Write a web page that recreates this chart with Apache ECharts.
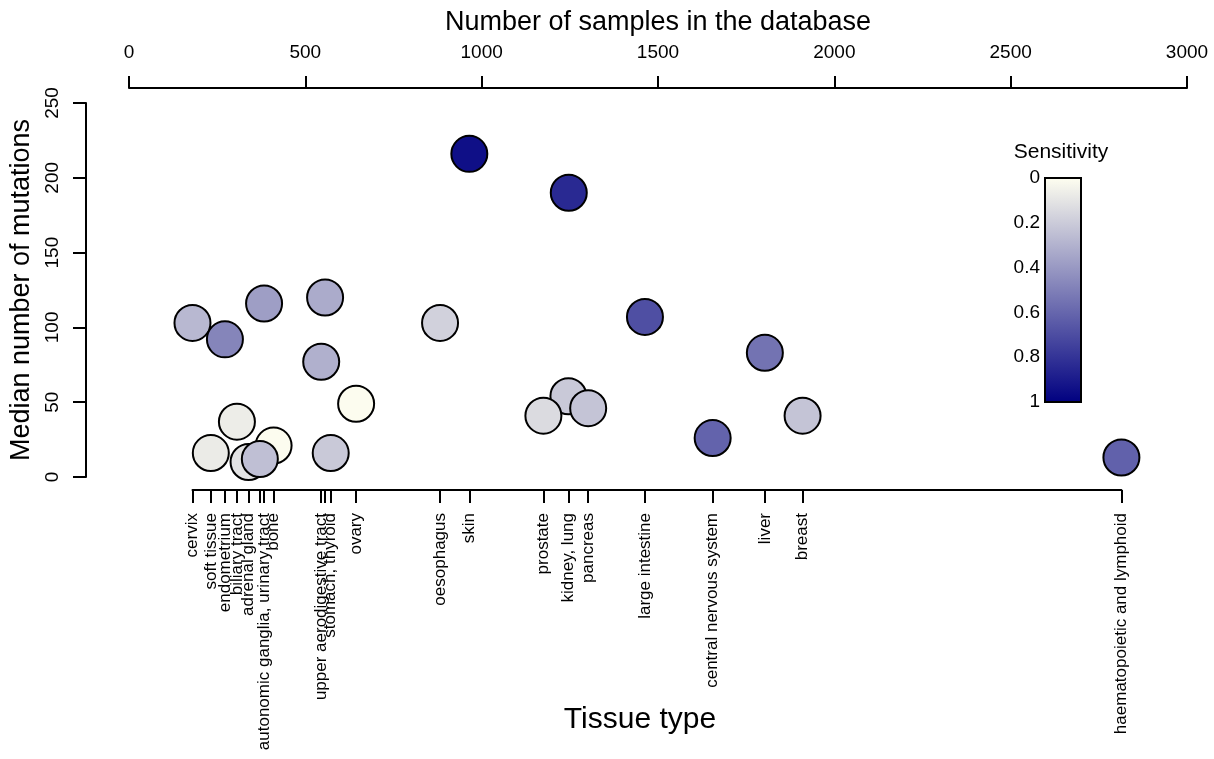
<!DOCTYPE html>
<html>
<head>
<meta charset="utf-8">
<script src="https://cdn.jsdelivr.net/npm/echarts@6/dist/echarts.min.js"></script>
<style>html,body{margin:0;padding:0;background:#fff}#c{width:1214px;height:759px}</style>
</head>
<body>
<div id="c"></div>
<script>
// ---- data (alphabetical = drawing order) ----
const tissues = ['adrenal gland','autonomic ganglia','biliary tract','bone','breast','central nervous system','cervix','endometrium','haematopoietic and lymphoid','kidney','large intestine','liver','lung','oesophagus','ovary','pancreas','prostate','skin','soft tissue','stomach','thyroid','upper aerodigestive tract','urinary tract'];
const tickLabels = ['adrenal gland','autonomic ganglia, urinary tract','biliary tract','bone','breast','central nervous system','cervix','endometrium','haematopoietic and lymphoid','kidney, lung','large intestine','liver','','oesophagus','ovary','pancreas','prostate','skin','soft tissue','','stomach, thyroid','upper aerodigestive tract',''];
const samples = [339, 383, 306, 410, 1910, 1655, 180, 272, 2814, 1246, 1463, 1803, 1247, 882, 644, 1302, 1175, 965, 232, 556, 572, 545, 371];
const medians = [10, 116, 37, 21, 41, 26, 103, 92, 13, 54, 107, 83, 190, 103, 49, 46, 41, 216, 16, 120, 16, 77, 12];
const sensitivity = [0.11, 0.38, 0.07, 0.01, 0.23, 0.61, 0.28, 0.48, 0.62, 0.21, 0.69, 0.55, 0.84, 0.18, 0.01, 0.23, 0.14, 0.94, 0.08, 0.33, 0.21, 0.31, 0.25];
const topTicks = [0, 500, 1000, 1500, 2000, 2500, 3000];
const leftTicks = [0, 50, 100, 150, 200, 250];
const legendTicks = [0, 0.2, 0.4, 0.6, 0.8, 1];
const sensColors = ['#FFFFF0', '#000080'];

// ---- layout ----
const FONT = 'Liberation Sans, Arial, sans-serif';
const plotLeft = 129, plotRight = 1187, plotTop = 103, plotBottom = 477;
const plotW = plotRight - plotLeft;
const xMax = topTicks[topTicks.length - 1];
const sMin = Math.min(...samples), sMax = Math.max(...samples);
const bLeft = plotLeft + plotW * sMin / xMax;
const bRight = plotLeft + plotW * sMax / xMax;

const data = tissues.map((t, i) => [samples[i], medians[i], sensitivity[i], t]);
const tickVals = samples.slice().sort((a, b) => a - b);
const labelVals = samples.filter((s, i) => tickLabels[i] !== '').sort((a, b) => a - b);

const chart = echarts.init(document.getElementById('c'), null, {renderer: 'canvas'});
chart.setOption({
  animation: false,
  backgroundColor: '#fff',
  textStyle: {fontFamily: FONT, color: '#000'},
  grid: [
    {left: plotLeft, top: plotTop, width: plotW, height: plotBottom - plotTop},
    {left: bLeft, top: plotTop, width: bRight - bLeft, height: plotBottom - plotTop},
    {left: 1045, top: 178, width: 36, height: 224, show: true, borderColor: '#000', borderWidth: 2,
     backgroundColor: new echarts.graphic.LinearGradient(0, 0, 0, 1, [{offset: 0, color: sensColors[0]}, {offset: 1, color: sensColors[1]}])}
  ],
  xAxis: [
    {gridIndex: 0, type: 'value', position: 'top', offset: 15, min: topTicks[0], max: xMax, interval: 500,
     axisLine: {show: true, onZero: false, lineStyle: {color: '#000', width: 2}},
     axisTick: {show: true, length: 12, lineStyle: {color: '#000', width: 2}},
     axisLabel: {fontSize: 19, color: '#000', margin: 26, fontFamily: FONT, formatter: v => String(v)},
     splitLine: {show: false},
     name: 'Number of samples in the database', nameLocation: 'middle', nameGap: 52,
     nameTextStyle: {fontSize: 27, color: '#000', fontFamily: FONT}},
    {gridIndex: 1, type: 'value', position: 'bottom', offset: 13, min: sMin, max: sMax,
     axisLine: {show: true, onZero: false, lineStyle: {color: '#000', width: 2}},
     axisTick: {show: true, length: 13, customValues: tickVals, lineStyle: {color: '#000', width: 2}},
     axisLabel: {show: true, rotate: 90, fontSize: 17, color: '#000', margin: 23, fontFamily: FONT,
       hideOverlap: false, customValues: labelVals,
       formatter: v => { const i = samples.findIndex((s, k) => s === v && tickLabels[k] !== ''); return i >= 0 ? tickLabels[i] : ''; }},
     splitLine: {show: false}},
    {gridIndex: 2, type: 'value', show: false, min: 0, max: 1}
  ],
  yAxis: [
    {gridIndex: 0, type: 'value', position: 'left', offset: 43, min: leftTicks[0], max: leftTicks[leftTicks.length - 1], interval: 50,
     axisLine: {show: true, onZero: false, lineStyle: {color: '#000', width: 2}},
     axisTick: {show: true, length: 13, lineStyle: {color: '#000', width: 2}},
     axisLabel: {rotate: 90, fontSize: 19, color: '#000', margin: 24, fontFamily: FONT},
     splitLine: {show: false},
     name: 'Median number of mutations', nameLocation: 'middle', nameGap: 49,
     nameTextStyle: {fontSize: 27, color: '#000', fontFamily: FONT}},
    {gridIndex: 1, type: 'value', show: false, min: 0, max: 250},
    {gridIndex: 2, type: 'value', position: 'left', min: legendTicks[0], max: legendTicks[legendTicks.length - 1], interval: 0.2, inverse: true,
     axisLine: {show: false}, axisTick: {show: false}, splitLine: {show: false},
     axisLabel: {fontSize: 19, color: '#000', margin: 5, fontFamily: FONT}}
  ],
  visualMap: {type: 'continuous', show: false, min: 0, max: 1, dimension: 2, seriesIndex: 0, inRange: {color: sensColors}},
  series: [{
    type: 'scatter', xAxisIndex: 0, yAxisIndex: 0, data: data, symbol: 'circle', symbolSize: 36,
    itemStyle: {borderColor: '#000', borderWidth: 2, opacity: 1}, emphasis: {disabled: true}
  }],
  graphic: [
    {type: 'text', x: 640, y: 720, style: {text: 'Tissue type', font: '30px ' + FONT, fill: '#000', align: 'center', verticalAlign: 'middle'}},
    {type: 'text', x: 1061, y: 152, style: {text: 'Sensitivity', font: '21px ' + FONT, fill: '#000', align: 'center', verticalAlign: 'middle'}}
  ]
});
</script>
</body>
</html>
